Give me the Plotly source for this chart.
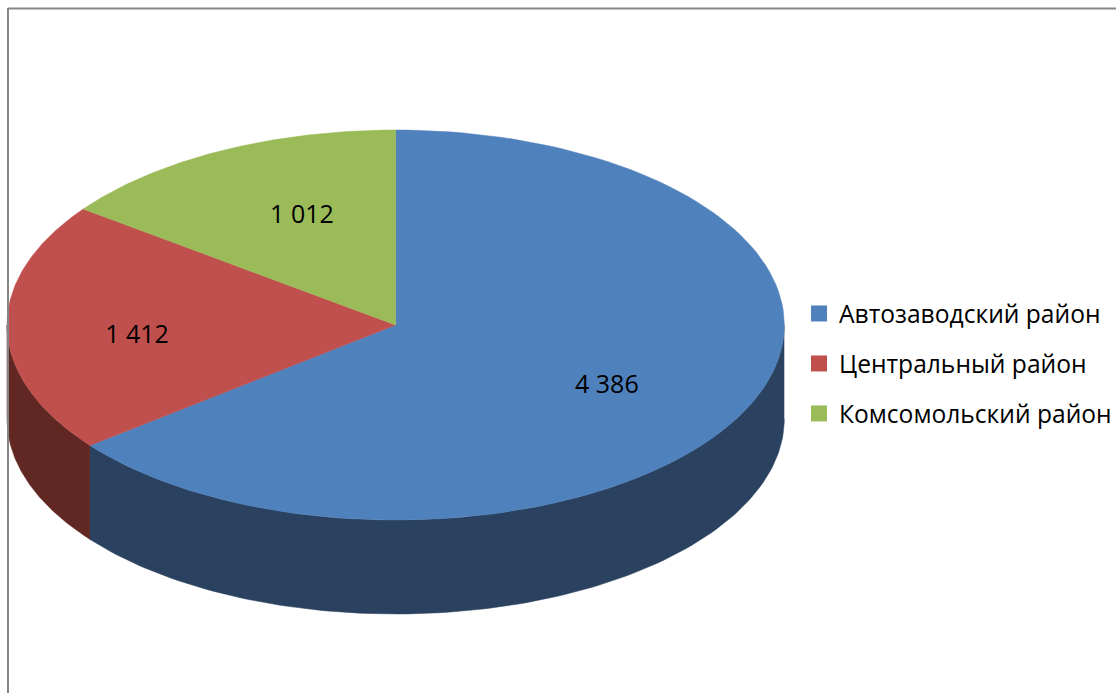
#!/usr/bin/env python3
"""3D-look pie chart: population by district, drawn as filled polygons on pixel-like axes."""

import numpy as np
import plotly.graph_objects as go

CATEGORIES = ["Автозаводский район", "Центральный район", "Комсомольский район"]
VALUES = [4386, 1412, 1012]
VALUE_LABELS = ["4 386", "1 412", "1 012"]

TOP_COLORS = ["#4F81BD", "#C0504D", "#9BBB59"]
SIDE_COLORS = ["#2A4260", "#612723", "#4F6228"]

# ellipse geometry, in axis units (same as pixels)
CX, CY = 396, 325
RX, RY = 389, 195
DEPTH = 94
# labels sit at this fraction of the radius on the slice's mid angle, then get nudged
LABEL_RADIUS = 0.65
LABEL_NUDGE = [(-16, 6), (-6, 10), (20, 5)]

FONT = "Open Sans, sans-serif"


def arc(a0, a1, n=120):
    # angles are clockwise from 12 o'clock, in degrees
    t = np.radians(np.linspace(a0, a1, n))
    return CX + RX * np.sin(t), CY - RY * np.cos(t)


def main():
    total = sum(VALUES)
    edges = np.concatenate([[0], np.cumsum(VALUES) / total * 360])

    fig = go.Figure()

    # side walls first, only the part that faces the viewer (90..270 deg)
    for i in range(len(VALUES)):
        a0, a1 = max(edges[i], 90), min(edges[i + 1], 270)
        if a0 >= a1:
            continue
        x, y = arc(a0, a1)
        fig.add_trace(
            go.Scatter(
                x=np.concatenate([x, x[::-1]]),
                y=np.concatenate([y, y[::-1] + DEPTH]),
                mode="lines",
                fill="toself",
                fillcolor=SIDE_COLORS[i],
                line=dict(color=SIDE_COLORS[i], width=0.5),
                showlegend=False,
                hoverinfo="skip",
            )
        )

    # top face
    for i in range(len(VALUES)):
        x, y = arc(edges[i], edges[i + 1])
        fig.add_trace(
            go.Scatter(
                x=np.concatenate([[CX], x, [CX]]),
                y=np.concatenate([[CY], y, [CY]]),
                mode="lines",
                fill="toself",
                fillcolor=TOP_COLORS[i],
                line=dict(color=TOP_COLORS[i], width=0.5),
                showlegend=False,
                name=CATEGORIES[i],
                hoverinfo="name",
            )
        )

    # value labels
    mids = np.radians((edges[:-1] + edges[1:]) / 2)
    fig.add_trace(
        go.Scatter(
            x=[CX + RX * LABEL_RADIUS * np.sin(m) + n[0] for m, n in zip(mids, LABEL_NUDGE)],
            y=[CY - RY * LABEL_RADIUS * np.cos(m) + n[1] for m, n in zip(mids, LABEL_NUDGE)],
            mode="text",
            text=VALUE_LABELS,
            textposition="middle center",
            textfont=dict(family=FONT, size=25, color="black"),
            showlegend=False,
            hoverinfo="skip",
        )
    )

    # legend swatches
    for name, color in zip(CATEGORIES, TOP_COLORS):
        fig.add_trace(
            go.Scatter(
                x=[None],
                y=[None],
                mode="markers",
                name=name,
                legendgroup=name,
                marker=dict(symbol="square", size=17, color=color),
            )
        )

    fig.update_xaxes(range=[0, 1117], visible=False, fixedrange=True)
    fig.update_yaxes(range=[693, 0], visible=False, fixedrange=True)

    # chart frame: only top and left edges show in the crop
    fig.add_shape(type="line", x0=8, x1=1117, y0=8.5, y1=8.5, line=dict(color="#868686", width=2))
    fig.add_shape(type="line", x0=8, x1=8, y0=8, y1=693, line=dict(color="#868686", width=2))

    fig.update_layout(
        width=1117,
        height=693,
        margin=dict(l=0, r=0, t=0, b=0),
        plot_bgcolor="white",
        paper_bgcolor="white",
        font=dict(family=FONT, size=24.6, color="black"),
        legend=dict(
            x=800 / 1117,
            y=1 - 291 / 693,
            xanchor="left",
            yanchor="top",
            tracegroupgap=15,
            bgcolor="rgba(0,0,0,0)",
            font=dict(family=FONT, size=24.6, color="black"),
        ),
    )

    # browser's default body margin would shift the plot by 8px
    fig.write_html(
        "out.html",
        config={"displayModeBar": False},
        post_script="document.body.style.margin='0';",
    )


if __name__ == "__main__":
    main()
